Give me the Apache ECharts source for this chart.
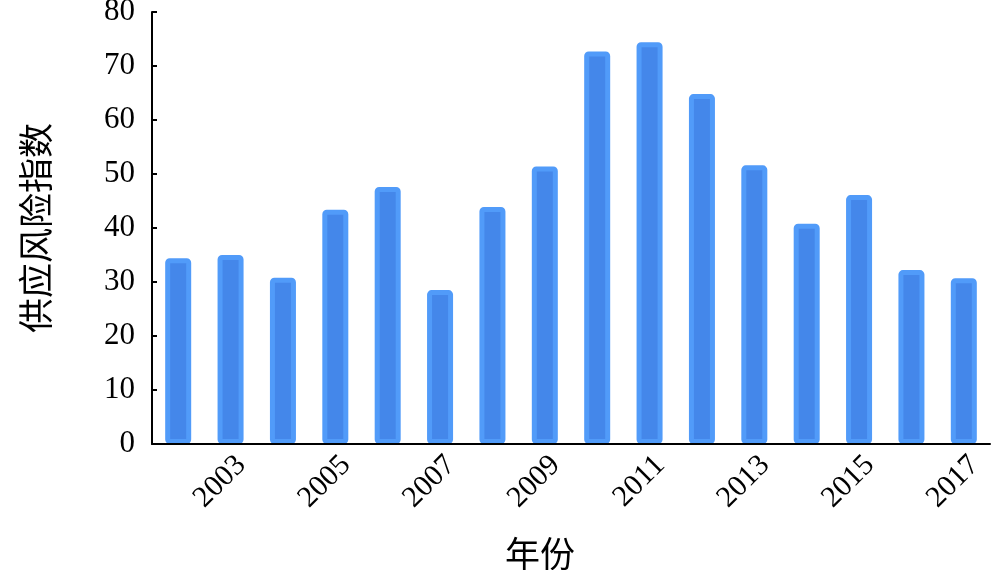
<!DOCTYPE html>
<html>
<head>
<meta charset="utf-8">
<script src="https://cdn.jsdelivr.net/npm/echarts@6/dist/echarts.min.js"></script>
<style>html,body{margin:0;padding:0;background:#fff;}#c{width:1000px;height:570px;}</style>
</head>
<body>
<div id="c"></div>
<script>
const years = ['2002','2003','2004','2005','2006','2007','2008','2009','2010','2011','2012','2013','2014','2015','2016','2017'];
const riskIndex = [34.4, 35.0, 30.8, 43.4, 47.6, 28.5, 43.9, 51.4, 72.7, 74.4, 64.8, 51.6, 40.8, 46.1, 32.2, 30.7];
const yTicks = {min: 0, max: 80, interval: 10};
const xName = '年份';
const yName = '供应风险指数';

const serif = '"Liberation Serif", "Times New Roman", "Noto Sans CJK SC", serif';
const chart = echarts.init(document.getElementById('c'), null, {renderer: 'canvas'});
chart.setOption({
  animation: false,
  backgroundColor: '#fff',
  grid: {left: 152, right: 10, top: 12, bottom: 126, containLabel: false, outerBoundsMode: 'none'},
  xAxis: {
    type: 'category',
    data: years,
    z: 5,
    name: xName,
    nameLocation: 'middle',
    nameGap: 92,
    nameTextStyle: {fontFamily: '"Noto Sans CJK SC", serif', fontSize: 35, color: '#000', padding: [0, 62, 0, 0]},
    axisLine: {lineStyle: {color: '#000', width: 2}},
    axisTick: {show: false},
    axisLabel: {
      rotate: 45,
      margin: 6,
      verticalAlign: 'top',
      fontFamily: serif,
      fontSize: 30,
      color: '#000',
      interval: function (i) { return i % 2 === 1; }
    }
  },
  yAxis: {
    type: 'value',
    min: yTicks.min, max: yTicks.max, interval: yTicks.interval,
    z: 5,
    name: yName,
    nameLocation: 'middle',
    nameRotate: 90,
    nameGap: 99,
    nameTextStyle: {fontFamily: '"Noto Sans CJK SC", serif', fontSize: 35, color: '#000'},
    axisLine: {show: true, lineStyle: {color: '#000', width: 2}},
    axisTick: {show: true, inside: true, length: 5, lineStyle: {color: '#000', width: 2}},
    splitLine: {show: false},
    axisLabel: {margin: 17, fontFamily: serif, fontSize: 31, color: '#000'}
  },
  series: [{
    type: 'bar',
    data: riskIndex,
    barWidth: 26,
    itemStyle: {
      color: '#4487EA',
      borderColor: '#519BF9',
      borderWidth: 5,
      borderRadius: 2
    }
  }]
});
</script>
</body>
</html>
